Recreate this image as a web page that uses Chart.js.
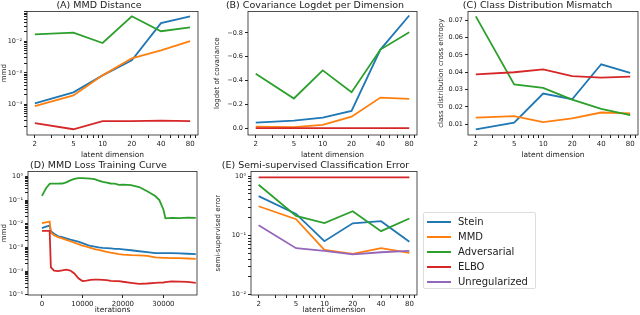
<!DOCTYPE html>
<html>
<head>
<meta charset="utf-8">
<script src="https://cdn.jsdelivr.net/npm/chart.js@4.4.1/dist/chart.umd.min.js"></script>
<style>
  body { margin: 0; width: 640px; height: 315px; background: #fff; position: relative; overflow: hidden; font-family: "DejaVu Sans", sans-serif; }
  canvas { position: absolute; }
  #legend { position: absolute; left: 423px; top: 212px; width: 113px; height: 77px; border: 1px solid #ddd; border-radius: 2px; box-sizing: border-box; font-size: 10px; color: #222; }
  #legend .row { position: absolute; left: 0; height: 15px; line-height: 15px; white-space: nowrap; }
  #legend .sw { position: absolute; left: 3px; top: 7px; width: 24px; height: 2px; }
  #legend .tx { position: absolute; left: 34px; top: 0; }
</style>
</head>
<body>
<canvas id="chartA" width="210" height="160" style="left:0;top:0"></canvas>
<canvas id="chartB" width="212" height="160" style="left:208px;top:0"></canvas>
<canvas id="chartC" width="215" height="160" style="left:425px;top:0"></canvas>
<canvas id="chartD" width="210" height="155" style="left:0;top:160px"></canvas>
<canvas id="chartE" width="212" height="155" style="left:208px;top:160px"></canvas>
<div id="legend"></div>
<script>
var dims = [2, 5, 10, 20, 40, 80];
var dimMinor = [3, 4, 6, 7, 8, 9, 30, 50, 60, 70, 90];
var methods = ["Stein", "MMD", "Adversarial", "ELBO", "Unregularized"];
var colors = ["#1f77b4", "#ff7f0e", "#2ca02c", "#d62728", "#9467bd"];

// (A) MMD distance
var mmdStein = [1.07e-4, 2.4e-4, 8.3e-4, 2.5e-3, 3.8e-2, 6.3e-2];
var mmdMmd   = [8.7e-5, 1.9e-4, 8.3e-4, 2.9e-3, 5.2e-3, 1.02e-2];
var mmdAdv   = [1.67e-2, 1.9e-2, 8.9e-3, 6.3e-2, 2.1e-2, 2.8e-2];
var mmdElbo  = [2.5e-5, 1.6e-5, 2.9e-5, 2.9e-5, 3.0e-5, 2.9e-5];

// (B) covariance logdet per dimension
var logdetStein = [-0.048, -0.065, -0.09, -0.146, -0.66, -0.946];
var logdetMmd   = [-0.014, -0.01, -0.028, -0.098, -0.258, -0.247];
var logdetAdv   = [-0.458, -0.25, -0.486, -0.303, -0.66, -0.806];
var logdetElbo  = [-0.001, -0.001, -0.001, -0.001, -0.001, -0.001];
var logdetTicks = [0, -0.2, -0.4, -0.6, -0.8];

// (C) class distribution cross entropy
var ceStein = [0.0069, 0.0108, 0.0277, 0.0244, 0.0446, 0.0396];
var ceMmd   = [0.0138, 0.0146, 0.0112, 0.0133, 0.0167, 0.0162];
var ceAdv   = [0.0723, 0.033, 0.031, 0.0242, 0.0188, 0.0152];
var ceElbo  = [0.0388, 0.04, 0.0417, 0.0377, 0.0369, 0.0375];
var ceTicks = [0.01, 0.02, 0.03, 0.04, 0.05, 0.06, 0.07];

// (D) mmd loss during training
var iters = [0, 1000, 1900, 2200, 3000, 4000, 5000, 6000, 7000, 8000, 9000, 10000, 11000, 12000, 13000, 14000, 15000,
             16000, 17000, 18000, 19000, 20000, 22000, 24000, 26000, 28000, 29000, 30000, 30500, 32000, 34000, 36000, 38000];
var lossStein = [6.5e-3, 7.6e-3, 8.3e-3, 4.8e-3, 3.8e-3, 2.95e-3, 2.7e-3, 2.4e-3, 2.14e-3, 1.95e-3, 1.74e-3, 1.51e-3, 1.32e-3,
                 1.15e-3, 1.07e-3, 1.0e-3, 9.5e-4, 9.3e-4, 9.1e-4, 8.7e-4, 8.7e-4, 8.3e-4, 7.6e-4, 6.9e-4, 6.3e-4, 5.75e-4,
                 5.75e-4, 5.75e-4, 5.75e-4, 5.75e-4, 5.6e-4, 5.4e-4, 5.25e-4];
var lossMmd = [1.05e-2, 1.15e-2, 1.23e-2, 4.2e-3, 3.3e-3, 2.7e-3, 2.4e-3, 2.1e-3, 1.82e-3, 1.58e-3, 1.38e-3, 1.2e-3, 1.07e-3,
               9.5e-4, 8.5e-4, 7.8e-4, 7.1e-4, 6.5e-4, 6.0e-4, 5.6e-4, 5.25e-4, 5.0e-4, 4.7e-4, 4.6e-4, 4.4e-4, 3.8e-4,
               3.7e-4, 3.6e-4, 3.6e-4, 3.55e-4, 3.5e-4, 3.4e-4, 3.3e-4];
var lossAdv = [0.151, 0.316, 0.479, 0.49, 0.49, 0.49, 0.5, 0.56, 0.68, 0.79, 0.85, 0.85, 0.83, 0.81, 0.76, 0.66, 0.58,
               0.54, 0.5, 0.49, 0.44, 0.45, 0.43, 0.355, 0.234, 0.148, 0.1, 0.04, 0.017, 0.0178, 0.0174, 0.0182, 0.0178];
var lossElbo = [5.0e-3, 5.0e-3, 5.0e-3, 1.45e-4, 1.05e-4, 1.0e-4, 1.07e-4, 1.15e-4, 1.05e-4, 7.9e-5, 5.0e-5, 3.8e-5, 4.0e-5,
                4.3e-5, 4.4e-5, 4.4e-5, 4.3e-5, 4.2e-5, 3.9e-5, 3.8e-5, 3.8e-5, 3.55e-5, 3.2e-5, 2.9e-5, 3.0e-5, 3.2e-5,
                3.25e-5, 3.3e-5, 3.4e-5, 3.7e-5, 3.6e-5, 3.5e-5, 3.2e-5];
var iterTicks = [0, 10000, 20000, 30000];

// (E) semi-supervised classification error
var errStein = [0.46, 0.23, 0.08, 0.16, 0.174, 0.078];
var errMmd   = [0.31, 0.188, 0.057, 0.049, 0.061, 0.051];
var errAdv   = [0.716, 0.214, 0.161, 0.256, 0.118, 0.193];
var errElbo  = [0.95, 0.95, 0.95, 0.95, 0.95, 0.95];
var errUnreg = [0.149, 0.061, 0.055, 0.048, 0.052, 0.055];

Chart.defaults.font.family = "'DejaVu Sans', sans-serif";
Chart.defaults.color = "#222";

var frame = {
  id: "frame",
  afterDraw: function(chart) {
    var a = chart.chartArea, ctx = chart.ctx;
    ctx.save();
    ctx.strokeStyle = "#222";
    ctx.lineWidth = 0.8;
    ctx.strokeRect(a.left, a.top, a.right - a.left, a.bottom - a.top);
    ctx.restore();
  }
};

function sup(n) {
  var s = "⁰¹²³⁴⁵⁶⁷⁸⁹";
  return String(n).split("").map(function(c) { return c == "-" ? "⁻" : s[+c]; }).join("");
}

function isPow10(v) {
  var l = Math.log10(v);
  return Math.abs(l - Math.round(l)) < 1e-9;
}

function logTicks(lo, hi, min, max) {
  var t = [];
  for (var e = lo; e <= hi; e++) {
    for (var m = 1; m < 10; m++) {
      var v = m * Math.pow(10, e);
      if (v >= min && v <= max) t.push({ value: v });
    }
  }
  return t;
}

function lines(xs, series, names) {
  return series.map(function(s, i) {
    return {
      label: names[i],
      data: xs.map(function(x, j) { return { x: x, y: s[j] }; }),
      borderColor: colors[methods.indexOf(names[i])],
      borderWidth: 1.8,
      pointRadius: 0,
      fill: false,
      tension: 0,
      order: -i
    };
  });
}

function dimAxis() {
  return {
    type: "logarithmic", min: 1.66, max: 96.4,
    afterBuildTicks: function(s) {
      s.ticks = dims.concat(dimMinor).sort(function(a, b) { return a - b; }).map(function(v) { return { value: v }; });
    },
    ticks: { autoSkip: false, maxRotation: 0, font: { size: 7 }, padding: 2,
      callback: function(v) { return dims.indexOf(v) >= 0 ? String(v) : ""; } },
    grid: { display: true, drawOnChartArea: false, tickLength: 3, color: "#222" },
    border: { display: false },
    title: { display: true, text: "latent dimension", font: { size: 7.5 }, padding: 0 },
    afterFit: function(s) { s.height = 25; }
  };
}

function logYAxis(lo, hi, min, max, width, label) {
  return {
    type: "logarithmic", min: min, max: max,
    afterBuildTicks: function(s) { s.ticks = logTicks(lo, hi, min, max); },
    ticks: { autoSkip: false, font: { size: 6.5 }, padding: 2,
      callback: function(v) { return isPow10(v) ? "10" + sup(Math.round(Math.log10(v))) : ""; } },
    grid: { display: true, drawOnChartArea: false, tickLength: 3, color: "#222" },
    border: { display: false },
    title: { display: true, text: label, font: { size: 7 }, padding: 0 },
    afterFit: function(s) { s.width = width; }
  };
}

function baseOptions(title, pad, xAxis, yAxis) {
  return {
    responsive: false,
    animation: false,
    events: [],
    layout: { padding: pad },
    plugins: {
      legend: { display: false },
      tooltip: { enabled: false },
      title: { display: true, text: title, font: { size: 9.5, weight: "normal" }, padding: { top: 0, bottom: 0 }, color: "#222" }
    },
    scales: { x: xAxis, y: yAxis }
  };
}

// (A)
new Chart(document.getElementById("chartA"), {
  type: "line",
  data: { datasets: lines(dims, [mmdStein, mmdMmd, mmdAdv, mmdElbo], ["Stein", "MMD", "Adversarial", "ELBO"]) },
  options: baseOptions("(A) MMD Distance", { left: 0, right: 12, top: 0, bottom: 0 },
    dimAxis(), logYAxis(-5, -2, 1.05e-5, 0.09, 27, "mmd")),
  plugins: [frame]
});

// (B)
var yB = {
  type: "linear", min: -0.98, max: 0.056, reverse: true,
  afterBuildTicks: function(s) { s.ticks = logdetTicks.map(function(v) { return { value: v }; }); },
  ticks: { autoSkip: false, font: { size: 6.5 }, padding: 2,
    callback: function(v) { return v == 0 ? "0.0" : "\u2212" + Math.abs(v).toFixed(1); } },
  grid: { display: true, drawOnChartArea: false, tickLength: 3, color: "#222" },
  border: { display: false },
  title: { display: true, text: "logdet of covariance", font: { size: 7 }, padding: 0 },
  afterFit: function(s) { s.width = 35; }
};
new Chart(document.getElementById("chartB"), {
  type: "line",
  data: { datasets: lines(dims, [logdetStein, logdetMmd, logdetAdv, logdetElbo], ["Stein", "MMD", "Adversarial", "ELBO"]) },
  options: baseOptions("(B) Covariance Logdet per Dimension", { left: 5, right: 3, top: 0, bottom: 0 }, dimAxis(), yB),
  plugins: [frame]
});

// (C)
var yC = {
  type: "linear", min: 0.0037, max: 0.0752,
  afterBuildTicks: function(s) { s.ticks = ceTicks.map(function(v) { return { value: v }; }); },
  ticks: { autoSkip: false, font: { size: 6.5 }, padding: 2, callback: function(v) { return v.toFixed(2); } },
  grid: { display: true, drawOnChartArea: false, tickLength: 3, color: "#222" },
  border: { display: false },
  title: { display: true, text: "class distribution cross entropy", font: { size: 7 }, padding: 0 },
  afterFit: function(s) { s.width = 31; }
};
new Chart(document.getElementById("chartC"), {
  type: "line",
  data: { datasets: lines(dims, [ceStein, ceMmd, ceAdv, ceElbo], ["Stein", "MMD", "Adversarial", "ELBO"]) },
  options: baseOptions("(C) Class Distribution Mismatch", { left: 12, right: 2, top: 0, bottom: 0 }, dimAxis(), yC),
  plugins: [frame]
});

// (D)
var xD = {
  type: "linear", min: -3450, max: 38300,
  afterBuildTicks: function(s) { s.ticks = iterTicks.map(function(v) { return { value: v }; }); },
  ticks: { autoSkip: false, maxRotation: 0, font: { size: 7 }, padding: 2, callback: function(v) { return String(v); } },
  grid: { display: true, drawOnChartArea: false, tickLength: 3, color: "#222" },
  border: { display: false },
  title: { display: true, text: "iterations", font: { size: 7.5 }, padding: 0 },
  afterFit: function(s) { s.height = 20; }
};
new Chart(document.getElementById("chartD"), {
  type: "line",
  data: { datasets: lines(iters, [lossStein, lossMmd, lossAdv, lossElbo], ["Stein", "MMD", "Adversarial", "ELBO"]) },
  options: baseOptions("(D) MMD Loss Training Curve", { left: 0, right: 13, top: 0, bottom: 0 },
    xD, logYAxis(-6, 0, 9.8e-6, 1.62, 28, "mmd")),
  plugins: [frame]
});

// (E)
new Chart(document.getElementById("chartE"), {
  type: "line",
  data: { datasets: lines(dims, [errStein, errMmd, errAdv, errElbo, errUnreg], methods) },
  options: baseOptions("(E) Semi-supervised Classification Error", { left: 6, right: 3, top: 0, bottom: 0 },
    (function() { var a = dimAxis(); a.afterFit = function(s) { s.height = 20; }; return a; })(),
    logYAxis(-2, 0, 0.0099, 1.2, 37, "semi-supervised error")),
  plugins: [frame]
});

// legend
var legend = document.getElementById("legend");
methods.forEach(function(m, i) {
  var row = document.createElement("div");
  row.className = "row";
  row.style.top = (1 + i * 15) + "px";
  row.innerHTML = '<div class="sw" style="background:' + colors[i] + '"></div><div class="tx">' + m + "</div>";
  legend.appendChild(row);
});
</script>
</body>
</html>
